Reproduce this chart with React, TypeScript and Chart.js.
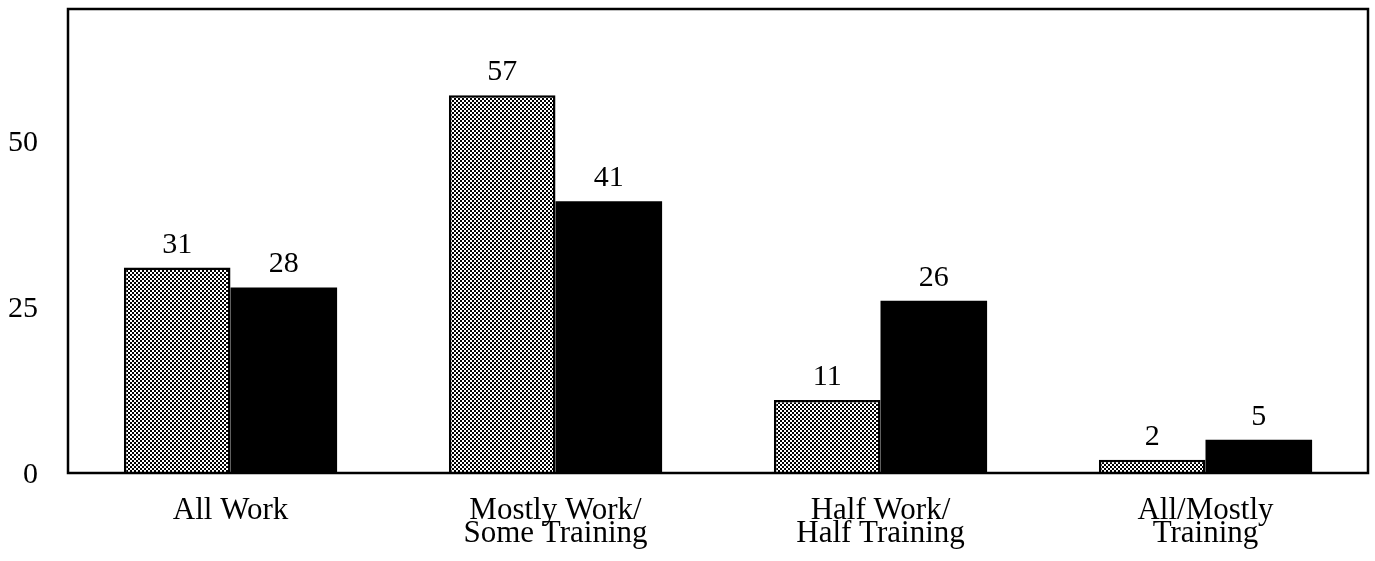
import React, { useEffect, useRef } from "react";
import { Chart, registerables } from "chart.js";

Chart.register(...registerables);

const categories: (string | string[])[] = [
  "All Work",
  ["Mostly Work/", "Some Training"],
  ["Half Work/", "Half Training"],
  ["All/Mostly", "Training"],
];
const seriesA: number[] = [31, 57, 11, 2];
const seriesB: number[] = [28, 41, 26, 5];
const yTickValues: number[] = [0, 25, 50];
const FONT = "'Liberation Serif', 'Times New Roman', serif";

function makePattern(): CanvasPattern | string {
  const c = document.createElement("canvas");
  c.width = 4;
  c.height = 4;
  const g = c.getContext("2d");
  if (!g) return "#888";
  g.fillStyle = "#ffffff";
  g.fillRect(0, 0, 4, 4);
  g.fillStyle = "#000000";
  g.fillRect(0, 0, 2, 2);
  g.fillRect(2, 2, 2, 2);
  const p = g.createPattern(c, "repeat");
  return p || "#888";
}

const framePlugin = {
  id: "frame",
  afterDatasetsDraw(chart: any) {
    const { ctx, chartArea } = chart;
    ctx.save();
    ctx.strokeStyle = "#000";
    ctx.lineWidth = 2.5;
    ctx.strokeRect(chartArea.left, chartArea.top, chartArea.right - chartArea.left, chartArea.bottom - chartArea.top);
    ctx.restore();
  },
};

const labelPlugin = {
  id: "valueLabels",
  afterDatasetsDraw(chart: any) {
    const { ctx } = chart;
    ctx.save();
    ctx.fillStyle = "#000";
    ctx.font = `30px ${FONT}`;
    ctx.textAlign = "center";
    ctx.textBaseline = "alphabetic";
    chart.data.datasets.forEach((ds: any, i: number) => {
      const meta = chart.getDatasetMeta(i);
      meta.data.forEach((bar: any, j: number) => {
        ctx.fillText(String(ds.data[j]), bar.x, bar.y - 15);
      });
    });
    ctx.restore();
  },
};

export default function App() {
  const ref = useRef<HTMLCanvasElement | null>(null);
  useEffect(() => {
    document.body.style.margin = "0";
    if (!ref.current) return;
    const pattern = makePattern();
    const chart = new Chart(ref.current, {
      type: "bar",
      data: {
        labels: categories,
        datasets: [
          {
            label: "A",
            data: seriesA,
            backgroundColor: pattern as any,
            borderColor: "#000",
            borderWidth: 2.5,
            barPercentage: 1,
            categoryPercentage: 0.656,
          },
          {
            label: "B",
            data: seriesB,
            backgroundColor: "#000",
            borderWidth: 0,
            barPercentage: 1,
            categoryPercentage: 0.656,
          },
        ],
      },
      options: {
        animation: false,
        responsive: false,
        maintainAspectRatio: false,
        layout: { padding: { left: 0, right: 7, top: 9, bottom: 0 } },
        plugins: { legend: { display: false }, tooltip: { enabled: false } },
        scales: {
          x: {
            grid: { display: false, drawTicks: false },
            border: { display: false },
            ticks: {
              color: "#000",
              font: { family: FONT, size: 31, lineHeight: 0.72 },
              padding: 27,
              maxRotation: 0,
              autoSkip: false,
            },
            afterFit: (s: any) => {
              s.height = 88;
              s.paddingLeft = 0;
              s.paddingRight = 0;
            },
          },
          y: {
            min: 0,
            max: 70,
            grid: { display: false, drawTicks: false },
            border: { display: false },
            afterBuildTicks: (s: any) => {
              s.ticks = yTickValues.map((v) => ({ value: v }));
            },
            ticks: {
              color: "#000",
              font: { family: FONT, size: 30 },
              padding: 30,
              labelOffset: 2,
            },
            afterFit: (s: any) => {
              s.width = 68;
              s.paddingTop = 0;
              s.paddingBottom = 0;
            },
          },
        },
      },
      plugins: [framePlugin, labelPlugin],
    });
    return () => chart.destroy();
  }, []);
  return (
    <div style={{ width: 1375, height: 561, background: "#fff" }}>
      <canvas ref={ref} width={1375} height={561} />
    </div>
  );
}
